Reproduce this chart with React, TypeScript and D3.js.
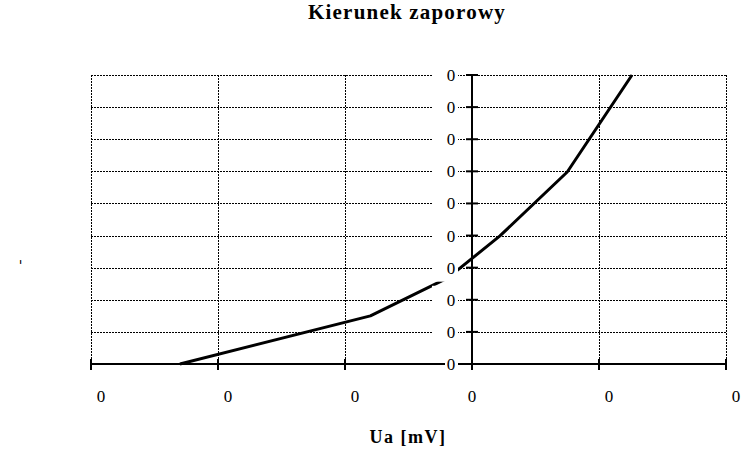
import React from "react";
import * as d3 from "d3";

const title = "Kierunek zaporowy";
const xTitle = "Ua [mV]";
const yTitle = "-";
const xTicks = [-0.3, -0.2, -0.1, 0, 0.1, 0.2];
const xTickLabels = ["0", "0", "0", "0", "0", "0"];
const yTicks = [0, 0.1, 0.2, 0.3, 0.4, 0.5, 0.6, 0.7, 0.8, 0.9];
const yTickLabels = ["0", "0", "0", "0", "0", "0", "0", "0", "0", "0"];
const seriesX = [-0.23, -0.08, -0.019, 0.022, 0.075, 0.126];
const seriesY = [0, 0.15, 0.268, 0.399, 0.598, 0.9];

const W = 743;
const H = 449;
const FONT = "'Liberation Serif', 'Times New Roman', serif";

export default function App() {
  const x = d3.scaleLinear().domain([-0.3, 0.2]).range([91, 726]);
  const y = d3.scaleLinear().domain([0, 0.9]).range([364, 75]);
  const pts: [number, number][] = seriesX.map((v, i) => [v, seriesY[i]]);
  const line = d3
    .line<[number, number]>()
    .x((d) => x(d[0]))
    .y((d) => y(d[1]));
  const x0 = x(0);
  const yBase = y(0);

  return (
    <svg
      width={W}
      height={H}
      style={{ position: "absolute", left: 0, top: 0, background: "#fff" }}
      fontFamily={FONT}
    >
      <text
        x={407}
        y={19}
        textAnchor="middle"
        fontSize={21}
        fontWeight="bold"
        letterSpacing={1.2}
        fill="#000"
      >
        {title}
      </text>

      {yTicks.map((t, i) =>
        i === 0 ? null : (
          <line
            key={"hg" + i}
            x1={x(-0.3)}
            x2={x(0.2)}
            y1={Math.round(y(t)) + 0.5}
            y2={Math.round(y(t)) + 0.5}
            stroke="#000"
            strokeWidth={1}
            strokeDasharray="2,1"
          />
        )
      )}
      {xTicks.map((t, i) =>
        t === 0 ? null : (
          <line
            key={"vg" + i}
            x1={Math.round(x(t)) + 0.5}
            x2={Math.round(x(t)) + 0.5}
            y1={y(0.9)}
            y2={yBase}
            stroke="#000"
            strokeWidth={1}
            strokeDasharray="2,1"
          />
        )
      )}

      <path
        d={line(pts) || ""}
        fill="none"
        stroke="#000"
        strokeWidth={3}
        strokeLinejoin="round"
      />

      <line x1={x(-0.3)} x2={x(0.2)} y1={yBase} y2={yBase} stroke="#000" strokeWidth={2} />
      {xTicks.map((t, i) =>
        t === 0 ? null : (
          <line
            key={"xt" + i}
            x1={x(t)}
            x2={x(t)}
            y1={yBase - 5}
            y2={yBase + 6}
            stroke="#000"
            strokeWidth={2}
          />
        )
      )}

      <line x1={x0} x2={x0} y1={y(0.9)} y2={yBase + 6} stroke="#000" strokeWidth={2} />
      {yTicks.map((t, i) => (
        <line
          key={"yt" + i}
          x1={x0 - 6}
          x2={x0 + 6}
          y1={y(t)}
          y2={y(t)}
          stroke="#000"
          strokeWidth={2}
        />
      ))}

      {yTicks.map((t, i) => (
        <g key={"yl" + i}>
          <rect
            x={i === 0 ? x0 - 27 : x0 - 40}
            y={y(t) - 14}
            width={i === 0 ? 13 : 26}
            height={28}
            fill="#fff"
          />
          <text
            x={x0 - 21}
            y={y(t) + 6}
            textAnchor="middle"
            fontSize={17}
            fill="#000"
          >
            {yTickLabels[i]}
          </text>
        </g>
      ))}

      {xTicks.map((t, i) => (
        <text
          key={"xl" + i}
          x={x(t) + (t === 0 ? 0 : 10)}
          y={402}
          textAnchor="middle"
          fontSize={17}
          fill="#000"
        >
          {xTickLabels[i]}
        </text>
      ))}

      <text x={408} y={443} textAnchor="middle" fontSize={18} fontWeight="bold" letterSpacing={1.5} fill="#000">
        {xTitle}
      </text>
      <text
        transform="translate(24,262) rotate(-90)"
        textAnchor="middle"
        fontSize={15}
        fill="#000"
      >
        {yTitle}
      </text>
    </svg>
  );
}
